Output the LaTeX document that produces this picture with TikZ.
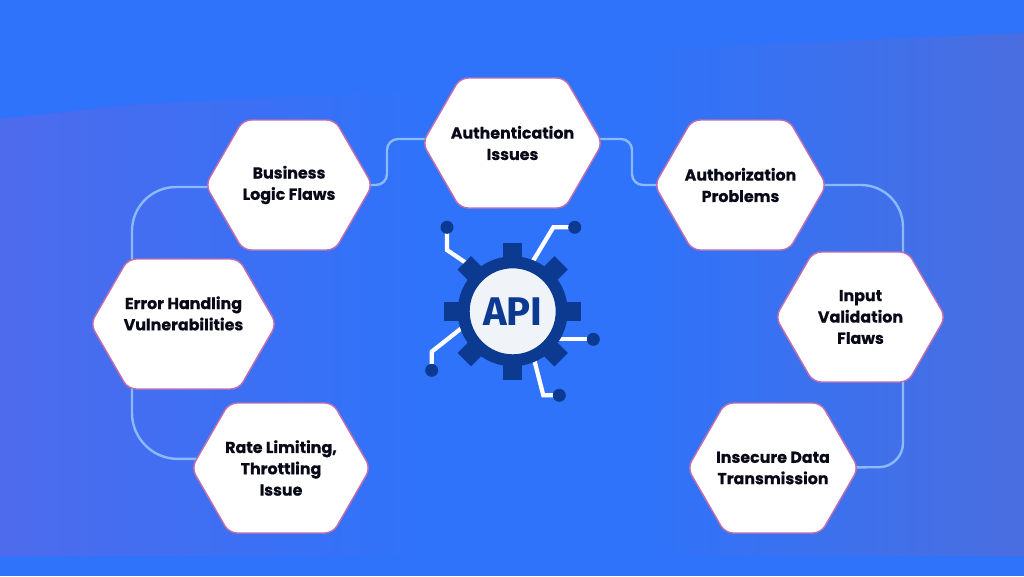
\documentclass[tikz,border=0pt]{standalone}
\usepackage{fontspec}
\setmainfont{Poppins}[BoldFeatures={FakeBold=0.6}]
\newfontfamily\apifont{Fira Sans}
\usetikzlibrary{shapes.symbols,backgrounds}
\newcommand{\s}{0.75pt}
\definecolor{basecol}{RGB}{47,115,250}
\definecolor{leftcol}{RGB}{78,107,236}
\definecolor{midcol}{RGB}{66,112,238}
\definecolor{rightcol}{RGB}{74,110,224}
\definecolor{edgecol}{RGB}{190,110,175}
\definecolor{linkcol}{RGB}{140,185,248}
\definecolor{gearcol}{RGB}{12,58,145}
\definecolor{facecol}{RGB}{240,243,248}
\definecolor{textcol}{RGB}{8,10,24}

\begin{document}
\begin{tikzpicture}[x=\s,y=-\s,
    hexbox/.style={signal, signal to=west and east, signal pointer angle=120, draw=edgecol, line width=1.1pt, fill=white, rounded corners=6pt, minimum height=130*\s, inner ysep=0pt, inner xsep=-25pt, align=center, text=textcol, font=\fontsize{11.9pt}{16pt}\selectfont\bfseries},
    link/.style={draw=linkcol, line width=1.8pt},
    trace/.style={draw=white, line width=3.2pt},
    dot/.style={circle, fill=gearcol, minimum size=13*\s, inner sep=0pt}]
    \useasboundingbox (0,0) rectangle (1024,576);

    % Top row
    \node[hexbox, minimum width=180*\s] (auth) at (512.5,143) {Authentication\\Issues};
    \node[hexbox, minimum width=167*\s] (business) at (289,185) {Business\\Logic Flaws};
    \node[hexbox, minimum width=172*\s] (authz) at (740.5,185) {Authorization\\Problems};

    % Middle row
    \node[hexbox, minimum width=186*\s] (error) at (183.5,324) {Error Handling\\Vulnerabilities\\\mbox{}};
    \node[hexbox, minimum width=170*\s] (input) at (860.5,317) {Input\\Validation\\Flaws};

    % Bottom row
    \node[hexbox, minimum width=179*\s] (rate) at (281,468) {Rate Limiting,\\Throttling\\Issue};
    \node[hexbox, minimum width=171*\s] (insecure) at (773,468) {Insecure Data\\Transmission};

    % API gear
    \coordinate (gearmid) at (512.7,311.3);
    \node[dot] (dot-tl) at (447,227.3) {};
    \node[dot] (dot-tr) at (574.7,227.3) {};
    \node[dot] (dot-r) at (593.3,339.3) {};
    \node[dot] (dot-br) at (559.3,395.3) {};
    \node[dot] (dot-bl) at (431.7,370.3) {};
    \coordinate (end-tl) at (475,269);
    \coordinate (end-tr) at (530,266);
    \coordinate (end-r) at (550,339.3);
    \coordinate (end-br) at (533,355);
    \coordinate (end-bl) at (468,323);
    \foreach \a in {0,45,...,315}
        \fill[gearcol, shift={(gearmid)}, rotate=\a] (-9.5,-68.5) rectangle (9.5,-50);
    \node[circle, fill=facecol, draw=gearcol, line width=12*\s, minimum size=98*\s, inner sep=0pt, outer sep=0pt, text=gearcol, font=\apifont\fontsize{30pt}{30pt}\selectfont\bfseries] (gear) at (gearmid) {API};

    % Background, links and traces go behind the nodes
    \begin{scope}[on background layer]
        \fill[basecol] (0,0) rectangle (1024,576);
        \shade[left color=leftcol, middle color=midcol, right color=basecol] (0,119) -- (130,105) -- (420,90) -- (420,556) -- (0,556) -- cycle;
        \shade[left color=basecol, right color=rightcol] (640,50) -- (1024,33) -- (1024,556) -- (640,556) -- cycle;

        \draw[link, rounded corners=11*\s] (business.center) -- (387,185) -- (387,139) -- ([yshift=3pt]auth.center);
        \draw[link, rounded corners=11*\s] ([yshift=3pt]auth.center) -- (632,139) -- (632,185) -- (authz.center);
        \draw[link, rounded corners=42*\s] (authz.center) -- (903,185) -- (903,317) -- (input.center);
        \draw[link, rounded corners=24*\s] (input.center) -- (903,317) -- (903,467) -- (insecure.center);
        \draw[link, rounded corners=44*\s] ([yshift=-1.5pt]business.center) -- (132,187) -- (132,324) -- (error.center);
        \draw[link, rounded corners=46*\s] (error.center) -- (132,324) -- (132,459) -- ([yshift=7pt]rate.center);

        \draw[trace] (dot-tl.center) -- (447,250) -- (end-tl);
        \draw[trace] (dot-tr.center) -- (553.3,227.3) -- (end-tr);
        \draw[trace] (dot-r.center) -- (end-r);
        \draw[trace] (dot-br.center) -- (543.3,395.3) -- (end-br);
        \draw[trace] (dot-bl.center) -- (431.7,351.7) -- (end-bl);
    \end{scope}
\end{tikzpicture}
\end{document}
